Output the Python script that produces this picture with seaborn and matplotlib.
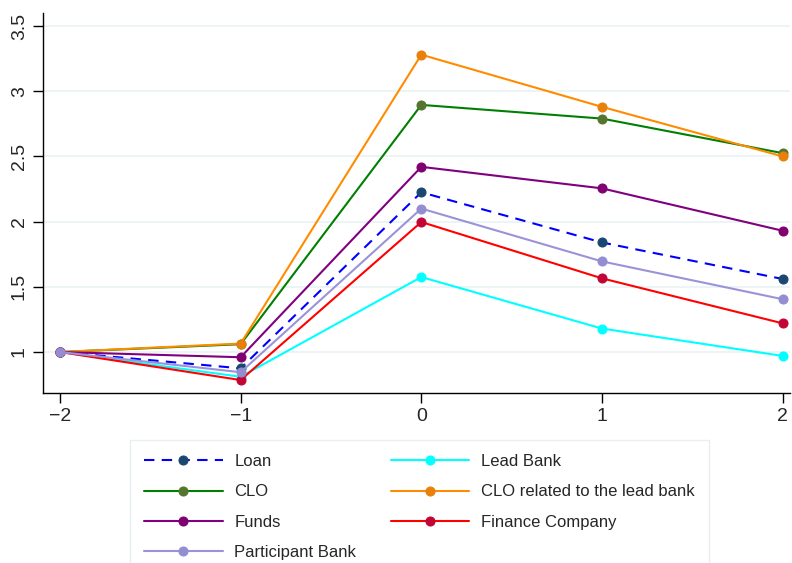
import pandas as pd
import seaborn as sns
import matplotlib.pyplot as plt

# event time
periods = [-2, -1, 0, 1, 2]

# series values (plot order)
series_names = ["Loan", "Lead Bank", "CLO", "CLO related to the lead bank",
                "Funds", "Finance Company", "Participant Bank"]
loan = [1.0, 0.875, 2.225, 1.84, 1.56]
lead_bank = [1.0, 0.81, 1.575, 1.18, 0.97]
clo = [1.0, 1.06, 2.895, 2.79, 2.525]
clo_lead = [1.0, 1.065, 3.28, 2.88, 2.50]
funds = [1.0, 0.96, 2.42, 2.255, 1.93]
finance = [1.0, 0.785, 1.997, 1.565, 1.22]
participant = [1.0, 0.845, 2.10, 1.695, 1.405]

y_ticks = [1, 1.5, 2, 2.5, 3, 3.5]
y_tick_labels = ["1", "1.5", "2", "2.5", "3", "3.5"]

values = [loan, lead_bank, clo, clo_lead, funds, finance, participant]
df = pd.DataFrame({
    "t": periods * len(series_names),
    "value": [v for s in values for v in s],
    "group": [n for n in series_names for _ in periods],
})

line_colors = {
    "Loan": "#0000ff",
    "Lead Bank": "#00ffff",
    "CLO": "#008000",
    "CLO related to the lead bank": "#ff8c00",
    "Funds": "#800080",
    "Finance Company": "#ff0000",
    "Participant Bank": "#9a93d8",
}
marker_colors = {
    "Loan": "#1a476f",
    "Lead Bank": "#00ffff",
    "CLO": "#55752f",
    "CLO related to the lead bank": "#e8800a",
    "Funds": "#800070",
    "Finance Company": "#c10534",
    "Participant Bank": "#938dd2",
}

sns.set_style("ticks")
plt.rcParams["font.family"] = ["Liberation Sans", "DejaVu Sans"]

fig = plt.figure(figsize=(7.92, 5.63), dpi=100)
ax = fig.add_axes([0.0543, 0.302, 0.943, 0.675])

handles = {}
for name in series_names:
    sub = df[df["group"] == name]
    sns.lineplot(data=sub, x="t", y="value", ax=ax, color=line_colors[name],
                 marker="o", markersize=6.5, markerfacecolor=marker_colors[name],
                 markeredgecolor=marker_colors[name], linewidth=1.5,
                 label=name, legend=False)
    ln = ax.lines[-1]
    if name == "Loan":
        ln.set_dashes((5, 3.5))
    handles[name] = ln

ax.set_xlim(-2.094, 2.04)
ax.set_ylim(0.686, 3.6)
ax.set_xticks(periods)
ax.set_xticklabels(["\u22122", "\u22121", "0", "1", "2"], fontsize=14)
ax.set_yticks(y_ticks)
ax.set_yticklabels(y_tick_labels, fontsize=14, rotation=90, va="center")
ax.set_xlabel("")
ax.set_ylabel("")
ax.tick_params(axis="both", length=7, width=1, color="black", pad=4)
ax.grid(axis="y", color="#eaf2f3", linewidth=1.2)
ax.set_axisbelow(True)
for side in ["top", "right"]:
    ax.spines[side].set_visible(False)
for side in ["left", "bottom"]:
    ax.spines[side].set_color("black")
    ax.spines[side].set_linewidth(1)

legend_order = ["Loan", "CLO", "Funds", "Participant Bank",
                "Lead Bank", "CLO related to the lead bank", "Finance Company"]
leg = fig.legend([handles[n] for n in legend_order], legend_order,
                 loc="upper left", bbox_to_anchor=(130 / 792, 1 - 440 / 563),
                 ncol=2, fontsize=12, frameon=True, fancybox=False,
                 handlelength=4.7, handletextpad=0.7, columnspacing=2.1,
                 labelspacing=0.92, borderpad=0.85, borderaxespad=0)
leg.get_frame().set_edgecolor("#e4ecee")
leg.get_frame().set_linewidth(1)

fig.savefig("out.png", dpi=100)
